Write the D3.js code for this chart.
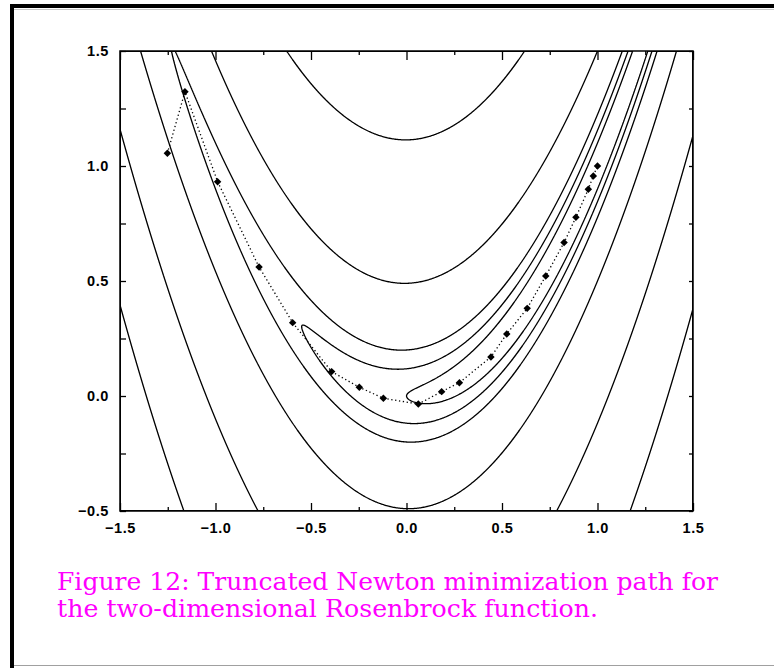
<!DOCTYPE html>
<html>
<head>
<meta charset="utf-8">
<script src="https://cdn.jsdelivr.net/npm/d3@7/dist/d3.min.js"></script>
<style>
body { margin: 0; background: #fff; }
svg { display: block; }
.axis text { font-family: "Liberation Sans", Arial, sans-serif; font-size: 14.5px; font-weight: bold; fill: #000; letter-spacing: 0.6px; }
.axis line { stroke: #000; stroke-width: 1.3px; }
</style>
</head>
<body>
<svg id="chart" width="774" height="668"></svg>
<script>
// contour levels of the Rosenbrock function shown in the plot
var levels = [1, 2.4, 5, 25, 125, 350];

// truncated Newton iterates
var pathX = [-1.252, -1.160, -0.989, -0.772, -0.596, -0.392, -0.247, -0.121, 0.062, 0.184, 0.277, 0.442, 0.525, 0.632, 0.729, 0.825, 0.887, 0.952, 0.978, 1.0];
var pathY = [1.055, 1.323, 0.932, 0.561, 0.319, 0.106, 0.038, -0.010, -0.035, 0.019, 0.058, 0.170, 0.270, 0.381, 0.522, 0.667, 0.777, 0.899, 0.957, 1.0];

var xMajor = [-1.5, -1.0, -0.5, 0.0, 0.5, 1.0, 1.5];
var xMinor = [-1.25, -0.75, -0.25, 0.25, 0.75, 1.25];
var yMajor = [-0.5, 0.0, 0.5, 1.0, 1.5];
var yMinor = [-0.25, 0.25, 0.75, 1.25];

var captionLines = [
    'Figure 12: Truncated Newton minimization path for',
    'the two-dimensional Rosenbrock function.'
];

var plot = { left: 120, right: 693, top: 51, bottom: 511 };

var svg = d3.select('#chart');

// page frame (bevelled border)
svg.append('rect').attr('x', 10).attr('y', 4).attr('width', 764).attr('height', 4).attr('fill', '#000');
svg.append('rect').attr('x', 10).attr('y', 4).attr('width', 4).attr('height', 664).attr('fill', '#000');
svg.append('line').attr('x1', 14).attr('x2', 774).attr('y1', 9.5).attr('y2', 9.5).attr('stroke', '#c8c8c8');
svg.append('line').attr('x1', 14).attr('x2', 774).attr('y1', 665.5).attr('y2', 665.5).attr('stroke', '#a0a0a0');

var xScale = d3.scaleLinear().domain([xMajor[0], xMajor[xMajor.length - 1]]).range([plot.left, plot.right]);
var yScale = d3.scaleLinear().domain([yMajor[0], yMajor[yMajor.length - 1]]).range([plot.bottom, plot.top]);

var rosen = function (x, y) {
    return 100 * (y - x * x) * (y - x * x) + (1 - x) * (1 - x);
};

// sample the function on a grid, about one cell per pixel
var xd = xScale.domain(), yd = yScale.domain();
var nx = plot.right - plot.left, ny = plot.bottom - plot.top;
var values = new Float64Array(nx * ny);
for (var j = 0; j < ny; j++) {
    for (var i = 0; i < nx; i++) {
        var gx = xd[0] + (i + 0.5) * (xd[1] - xd[0]) / nx;
        var gy = yd[1] - (j + 0.5) * (yd[1] - yd[0]) / ny;
        values[j * nx + i] = rosen(gx, gy);
    }
}

var contours = d3.contours().size([nx, ny]).thresholds(levels)(values);

var gridToPx = d3.geoTransform({
    point: function (px, py) {
        this.stream.point(
            xScale(xd[0] + px * (xd[1] - xd[0]) / nx),
            yScale(yd[1] - py * (yd[1] - yd[0]) / ny)
        );
    }
});

svg.append('clipPath').attr('id', 'clip')
    .append('rect')
    .attr('x', plot.left).attr('y', plot.top)
    .attr('width', plot.right - plot.left).attr('height', plot.bottom - plot.top);

svg.append('g')
    .attr('clip-path', 'url(#clip)')
    .selectAll('path')
    .data(contours)
    .join('path')
    .attr('d', d3.geoPath(gridToPx))
    .attr('fill', 'none')
    .attr('stroke', '#000')
    .attr('stroke-width', 1.3);

// minimization path
var pts = pathX.map(function (d, k) { return { x: d, y: pathY[k] }; });

svg.append('path')
    .datum(pts)
    .attr('d', d3.line().x(d => xScale(d.x)).y(d => yScale(d.y)))
    .attr('fill', 'none')
    .attr('stroke', '#000')
    .attr('stroke-width', 1.3)
    .attr('stroke-dasharray', '1.3,2.6');

// markers: small square diamonds
svg.selectAll('.pt')
    .data(pts)
    .join('path')
    .attr('class', 'pt')
    .attr('transform', d => 'translate(' + xScale(d.x) + ',' + yScale(d.y) + ') rotate(45)')
    .attr('d', d3.symbol().type(d3.symbolSquare).size(28))
    .attr('fill', '#000');

// axes: ticks point inwards on all four sides
var fmt = d3.format('.1f');

svg.append('g').attr('class', 'axis')
    .attr('transform', 'translate(0,' + plot.bottom + ')')
    .call(d3.axisBottom(xScale).tickValues(xMajor).tickSizeInner(-8).tickSizeOuter(0).tickPadding(12).tickFormat(fmt));
svg.append('g').attr('class', 'axis')
    .attr('transform', 'translate(0,' + plot.bottom + ')')
    .call(d3.axisBottom(xScale).tickValues(xMinor).tickSizeInner(-4).tickSizeOuter(0).tickFormat(''));

svg.append('g').attr('class', 'axis')
    .attr('transform', 'translate(0,' + plot.top + ')')
    .call(d3.axisTop(xScale).tickValues(xMajor).tickSizeInner(-9).tickSizeOuter(0).tickFormat(''));
svg.append('g').attr('class', 'axis')
    .attr('transform', 'translate(0,' + plot.top + ')')
    .call(d3.axisTop(xScale).tickValues(xMinor).tickSizeInner(-4).tickSizeOuter(0).tickFormat(''));

svg.append('g').attr('class', 'axis')
    .attr('transform', 'translate(' + plot.left + ',0)')
    .call(d3.axisLeft(yScale).tickValues(yMajor).tickSizeInner(-6).tickSizeOuter(0).tickPadding(11).tickFormat(fmt));
svg.append('g').attr('class', 'axis')
    .attr('transform', 'translate(' + plot.left + ',0)')
    .call(d3.axisLeft(yScale).tickValues(yMinor).tickSizeInner(-6).tickSizeOuter(0).tickFormat(''));

svg.append('g').attr('class', 'axis')
    .attr('transform', 'translate(' + plot.right + ',0)')
    .call(d3.axisRight(yScale).tickValues(yMajor.concat(yMinor)).tickSizeInner(-4).tickSizeOuter(0).tickFormat(''));

svg.selectAll('.axis .domain').remove();

// plot frame
svg.append('rect')
    .attr('x', plot.left).attr('y', plot.top)
    .attr('width', plot.right - plot.left).attr('height', plot.bottom - plot.top)
    .attr('fill', 'none').attr('stroke', '#000').attr('stroke-width', 1.5);

// caption
var captionWidths = [661, 541];
svg.selectAll('.caption')
    .data(captionLines)
    .join('text')
    .attr('class', 'caption')
    .attr('x', 57)
    .attr('y', (d, k) => 590 + k * 27)
    .attr('textLength', (d, k) => captionWidths[k])
    .attr('lengthAdjust', 'spacingAndGlyphs')
    .style('font-family', '"DejaVu Serif", "Liberation Serif", serif')
    .style('font-size', '25px')
    .style('fill', '#ff00ff')
    .text(d => d);
</script>
</body>
</html>
